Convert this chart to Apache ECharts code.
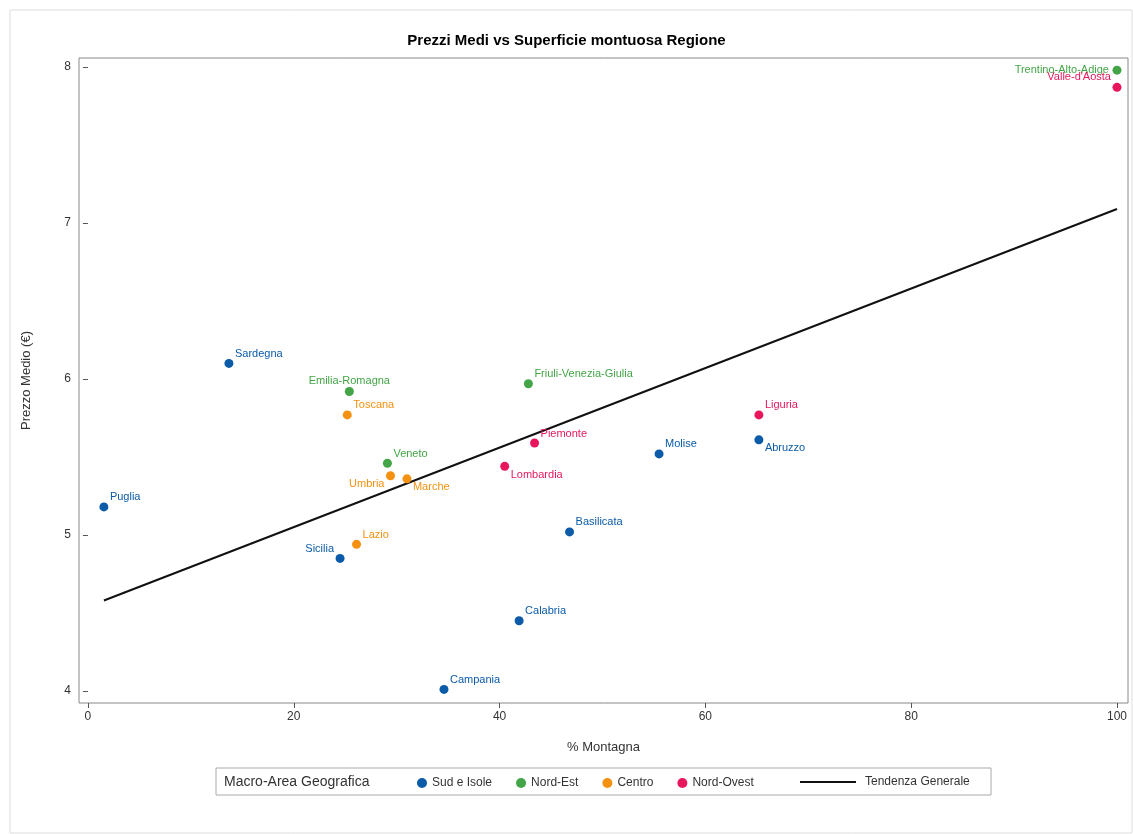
<!DOCTYPE html><html><head><meta charset="utf-8">
<script src="https://cdn.jsdelivr.net/npm/echarts@6/dist/echarts.min.js"></script>
<style>html,body{margin:0;padding:0;background:#fff}#c{width:1133px;height:834px}</style></head><body><div id="c"></div>
<script>
const sudNames=['Sardegna','Puglia','Sicilia','Campania','Calabria','Basilicata','Molise','Abruzzo'];
const sudX=[13.7,1.55,24.5,34.6,41.9,46.8,55.5,65.2];
const sudY=[6.10,5.18,4.85,4.01,4.45,5.02,5.52,5.61];
const neNames=['Emilia-Romagna','Friuli-Venezia-Giulia','Veneto','Trentino-Alto-Adige'];
const neX=[25.4,42.8,29.1,100];
const neY=[5.92,5.97,5.46,7.98];
const ceNames=['Toscana','Umbria','Marche','Lazio'];
const ceX=[25.2,29.4,31.0,26.1];
const ceY=[5.77,5.38,5.36,4.94];
const noNames=['Piemonte','Lombardia','Liguria',"Valle-d'Aosta"];
const noX=[43.4,40.5,65.2,100];
const noY=[5.59,5.44,5.77,7.87];
const trendX=[1.55,100];
const trendY=[4.58,7.09];
const xTicks=[0,20,40,60,80,100];
const yTicks=[4,5,6,7,8];
const pos={'Sardegna':'tr','Puglia':'tr','Sicilia':'tl','Campania':'tr','Calabria':'tr','Basilicata':'tr','Molise':'tr','Abruzzo':'br',
'Emilia-Romagna':'tc','Friuli-Venezia-Giulia':'tr','Veneto':'tr','Trentino-Alto-Adige':'l','Toscana':'tr','Umbria':'bl','Marche':'br','Lazio':'tr',
'Piemonte':'tr','Lombardia':'br','Liguria':'tr',"Valle-d'Aosta":'va'};
const off={tr:[4,-4,'left','bottom'],tl:[-4,-4,'right','bottom'],br:[4,3,'left','top'],bl:[-4,3,'right','top'],tc:[0,-5,'center','bottom'],l:[-6,0,'right','middle'],va:[-4,-10,'right','middle']};
function mk(name,names,xs,ys,color){
 return {name,type:'scatter',symbolSize:9,itemStyle:{color,opacity:1},
  data:names.map((n,i)=>{const o=off[pos[n]];return {value:[xs[i],ys[i]],name:n,label:{show:true,formatter:n,position:'inside',offset:[o[0]+(o[2]==='left'?2:o[2]==='right'?-2:0),o[1]],align:o[2],verticalAlign:o[3],color,fontSize:11,fontFamily:'Arial, Liberation Sans'}}})};
}
const ch=echarts.init(document.getElementById('c'));
ch.setOption({
 animation:false,
 title:{text:'Prezzi Medi vs Superficie montuosa Regione',left:'center',top:28,textStyle:{fontSize:15,fontWeight:'bold',color:'#000',fontFamily:'Arial, Liberation Sans'}},
 grid:{left:79,right:5,top:58,bottom:131,show:true,borderColor:'#888',borderWidth:1},
 xAxis:{type:'value',min:-0.87,max:101.07,name:'% Montagna',nameLocation:'middle',nameGap:38,nameTextStyle:{fontSize:13,color:'#333'},
  splitLine:{show:false},axisLine:{show:false},
  axisTick:{show:true,customValues:xTicks,lineStyle:{color:'#555'}},
  axisLabel:{customValues:xTicks,color:'#333',fontSize:12}},
 yAxis:{type:'value',min:3.923,max:8.058,name:'Prezzo Medio (€)',nameLocation:'middle',nameGap:46,nameTextStyle:{fontSize:13,color:'#333'},
  splitLine:{show:false},axisLine:{show:false},
  axisTick:{show:true,customValues:yTicks,lineStyle:{color:'#555'}},
  axisLabel:{customValues:yTicks,color:'#333',fontSize:12}},
 legend:{bottom:40,left:412,itemGap:24,itemWidth:10,itemHeight:10,textStyle:{fontSize:12,color:'#333'},
  data:[{name:'Sud e Isole',icon:'circle'},{name:'Nord-Est',icon:'circle'},{name:'Centro',icon:'circle'},{name:'Nord-Ovest',icon:'circle'}]},
 graphic:[
  {type:'rect',shape:{x:216,y:768,width:775,height:27},style:{fill:'none',stroke:'#aaa',lineWidth:1}},
  {type:'text',x:224,y:775,style:{text:'Macro-Area Geografica',fontSize:14,fill:'#333'}},
  {type:'line',shape:{x1:800,y1:782,x2:856,y2:782},style:{stroke:'#111',lineWidth:2}},
  {type:'text',x:865,y:776,style:{text:'Tendenza Generale',fontSize:12,fill:'#333'}},
  {type:'rect',shape:{x:10,y:10,width:1122,height:823},style:{fill:'none',stroke:'#ddd',lineWidth:1}}
 ],
 series:[
  {name:'Tendenza Generale',type:'line',symbol:'none',lineStyle:{color:'#111',width:2},itemStyle:{color:'#111'},data:trendX.map((x,i)=>[x,trendY[i]]),z:1},
  mk('Sud e Isole',sudNames,sudX,sudY,'#0b5ba8'),
  mk('Nord-Est',neNames,neX,neY,'#43a547'),
  mk('Centro',ceNames,ceX,ceY,'#f59110'),
  mk('Nord-Ovest',noNames,noX,noY,'#e8175d')
 ]
});
</script></body></html>
